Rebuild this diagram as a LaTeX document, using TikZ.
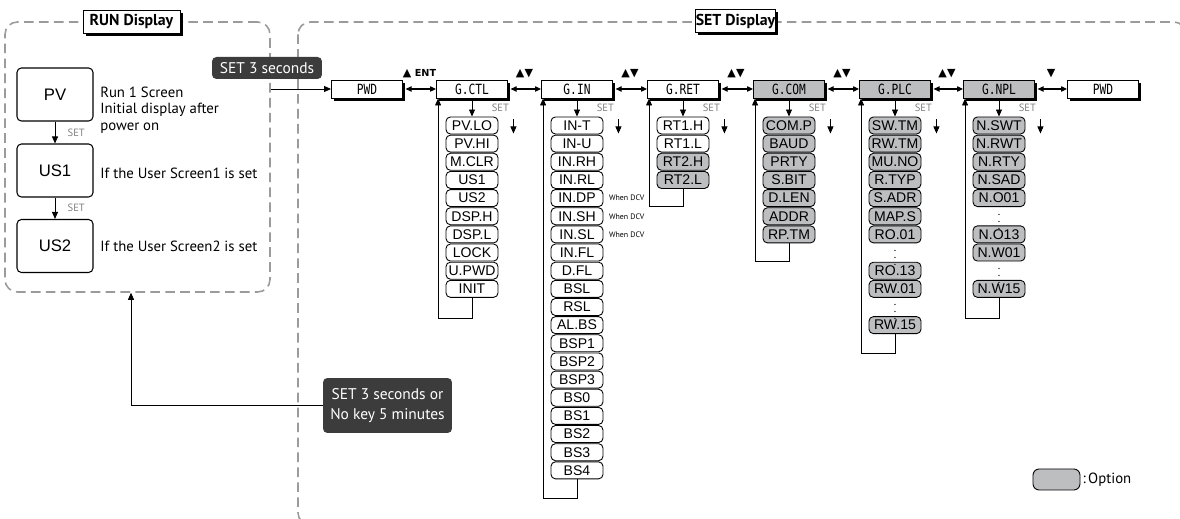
\documentclass[tikz,border=0pt]{standalone}
\usepackage{fontspec}
\setmainfont{PT Sans}
\newfontfamily\itemfont{Liberation Sans}
\newfontfamily\grpfont[FakeStretch=0.8]{DejaVu Sans Mono}
\newfontfamily\symfont{DejaVu Sans}
\usetikzlibrary{arrows.meta, positioning, calc, shadows}

\definecolor{optgray}{RGB}{189,190,192}
\definecolor{darkbox}{RGB}{60,60,60}
\definecolor{dashgray}{RGB}{155,155,155}

\begin{document}
\begin{tikzpicture}[x=0.02cm, y=-0.02cm,
    dashbox/.style={draw=dashgray, line width=0.9pt, dash pattern=on 5.5pt off 3pt, rounded corners=7pt},
    titlebox/.style={draw, fill=white, line width=0.5pt, inner sep=0pt, minimum height=0.46cm, font=\bfseries\fontsize{9}{9}\selectfont, drop shadow={shadow xshift=1.5pt, shadow yshift=-1.5pt, fill=black, opacity=1}},
    screen/.style={draw, rounded corners=2.5pt, line width=0.6pt, minimum width=1.52cm, minimum height=1.06cm, font=\itemfont\fontsize{9.5}{9.5}\selectfont},
    notetext/.style={anchor=west, align=left, inner sep=0pt, font=\fontsize{8.4}{9.5}\selectfont},
    darklab/.style={fill=darkbox, text=white, rounded corners=2.5pt, inner sep=0pt, align=center, font=\fontsize{8.8}{11.5}\selectfont},
    grp/.style={draw, fill=white, line width=0.5pt, inner sep=0pt, minimum width=1.42cm, minimum height=0.36cm, font=\grpfont\fontsize{8}{8}\selectfont, drop shadow={shadow xshift=1.5pt, shadow yshift=-1.5pt, fill=black, opacity=1}},
    grpopt/.style={grp, fill=optgray},
    item/.style={draw, fill=white, line width=0.5pt, rounded corners=2.5pt, inner sep=0pt, minimum width=1.04cm, minimum height=0.34cm, font=\itemfont\fontsize{8}{8}\selectfont},
    itemopt/.style={item, fill=optgray},
    dots/.style={inner sep=0pt, font=\fontsize{6.5}{6.5}\selectfont},
    arr/.style={-{Triangle[length=4pt,width=3.4pt]}, line width=0.5pt},
    dbl/.style={{Triangle[length=3.4pt,width=3pt]}-{Triangle[length=3.4pt,width=3pt]}, line width=0.6pt, shorten <=1.5pt},
    keylab/.style={midway, yshift=8.8pt, inner sep=0pt, font=\symfont\fontsize{6.3}{6.3}\selectfont},
    setlab/.style={midway, right=11pt, inner sep=0pt, text=gray, font=\fontsize{6}{6}\selectfont},
    dcv/.style={anchor=west, xshift=3pt, inner sep=0pt, font=\fontsize{4.5}{4.5}\selectfont}
]
    \useasboundingbox (0,0) rectangle (1180,519);
    \clip (0,0) rectangle (1180,519);

    % Display frames
    \node[dashbox, minimum width=5.3cm, minimum height=5.4cm] (runbox) at (137.5,157) {};
    \draw[dashbox] (298,22) rectangle (1186,525);
    \node[titlebox, minimum width=1.94cm] (runtitle) at (131.5,21.5) {RUN Display};
    \node[titlebox, minimum width=1.5cm] (settitle) at (735.5,21) {SET Display};

    % RUN screens
    \node[screen] (pv) at (55,94.5) {PV};
    \node[screen] (us1) at (55,170.5) {US1};
    \node[screen] (us2) at (55,246) {US2};
    \draw[arr] (pv) -- node[setlab, right=7pt] {SET} (us1);
    \draw[arr] (us1) -- node[setlab, right=7pt] {SET} (us2);
    \node[notetext] (pvnote) at (100,110) {Run 1 Screen\\Initial display after\\power on};
    \node[notetext] (us1note) at (100,173) {If the User Screen1 is set};
    \node[notetext] (us2note) at (100,246) {If the User Screen2 is set};

    % Group row
    \node[grp] (pwdA) at (367,89) {PWD};
    \node[grp] (gctl) at (472,89) {G.CTL};
    \node[grp] (gin) at (577,89) {G.IN};
    \node[grp] (gret) at (683,89) {G.RET};
    \node[grpopt] (gcom) at (789,89) {G.COM};
    \node[grpopt] (gplc) at (895,89) {G.PLC};
    \node[grpopt] (gnpl) at (999,89) {G.NPL};
    \node[grp] (pwdB) at (1103,89) {PWD};
    \draw[dbl] (pwdA) -- node[keylab] {▲ {\fontsize{5.5}{5.5}\selectfont\bfseries ENT}} (gctl);
    \draw[dbl] (gctl) -- node[keylab] {▲▼} (gin);
    \draw[dbl] (gin) -- node[keylab] {▲▼} (gret);
    \draw[dbl] (gret) -- node[keylab] {▲▼} (gcom);
    \draw[dbl] (gcom) -- node[keylab] {▲▼} (gplc);
    \draw[dbl] (gplc) -- node[keylab] {▲▼} (gnpl);
    \draw[dbl] (gnpl) -- node[keylab] {▼} (pwdB);

    % Entry and exit
    \node[darklab, minimum width=2.2cm, minimum height=0.44cm] (entrylab) at (267,68) {SET 3 seconds};
    \draw[arr] (runbox.east |- pwdA.west) -- (pwdA.west);
    \node[darklab, minimum width=2.58cm, minimum height=1.1cm] (exitlab) at (387.5,405.5) {SET 3 seconds or\\No key 5 minutes};
    \draw[arr] (exitlab.west) -| ([xshift=-0.13cm]runbox.south);

    % G.CTL
    \foreach \name [count=\i] in {PV.LO, PV.HI, M.CLR, US1, US2, DSP.H, DSP.L, LOCK, U.PWD, INIT}
        \node[item] (ctl\i) at (472,{125.5+18.15*(\i-1)}) {\name};
    \draw[arr] (gctl) -- node[setlab] {SET} (ctl1);
    \draw[arr] ($(ctl1.east)+(15,-6)$) -- ++(0,14);
    \draw[arr] (ctl10.south) -- ++(0,21) -| ([xshift=0.04cm]gctl.south west);

    % G.IN
    \foreach \name [count=\i] in {IN-T, IN-U, IN.RH, IN.RL, IN.DP, IN.SH, IN.SL, IN.FL, D.FL, BSL, RSL, AL.BS, BSP1, BSP2, BSP3, BS0, BS1, BS2, BS3, BS4}
        \node[item] (in\i) at (577,{125.5+18.15*(\i-1)}) {\name};
    \foreach \i in {5,6,7}
        \node[dcv] (dcv\i) at (in\i.east) {When DCV};
    \draw[arr] (gin) -- node[setlab] {SET} (in1);
    \draw[arr] ($(in1.east)+(15,-6)$) -- ++(0,14);
    \draw[arr] (in20.south) -- ++(0,19) -| ([xshift=0.04cm]gin.south west);

    % G.RET
    \foreach \name/\fc [count=\i] in {RT1.H/white, RT1.L/white, RT2.H/optgray, RT2.L/optgray}
        \node[item, fill=\fc] (ret\i) at (683,{125.5+18.15*(\i-1)}) {\name};
    \draw[arr] (gret) -- node[setlab] {SET} (ret1);
    \draw[arr] ($(ret1.east)+(15,-6)$) -- ++(0,14);
    \draw[arr] (ret4.south) -- ++(0,18) -| ([xshift=0.04cm]gret.south west);

    % G.COM
    \foreach \name [count=\i] in {COM.P, BAUD, PRTY, S.BIT, D.LEN, ADDR, RP.TM}
        \node[itemopt] (com\i) at (789,{125.5+18.15*(\i-1)}) {\name};
    \draw[arr] (gcom) -- node[setlab] {SET} (com1);
    \draw[arr] ($(com1.east)+(15,-6)$) -- ++(0,14);
    \draw[arr] (com7.south) -- ++(0,18) -| ([xshift=0.04cm]gcom.south west);

    % G.PLC
    \foreach \name/\s [count=\i] in {SW.TM/0, RW.TM/1, MU.NO/2, R.TYP/3, S.ADR/4, MAP.S/5, RO.01/6, RO.13/8, RW.01/9, RW.15/11}
        \node[itemopt] (plc\i) at (895,{125.5+18.15*\s}) {\name};
    \node[dots] (plcdotA) at (895,{125.5+18.15*7}) {$\vdots$};
    \node[dots] (plcdotB) at (895,{125.5+18.15*10}) {$\vdots$};
    \draw[arr] (gplc) -- node[setlab] {SET} (plc1);
    \draw[arr] ($(plc1.east)+(15,-6)$) -- ++(0,14);
    \draw[arr] (plc10.south) -- ++(0,19) -| ([xshift=0.04cm]gplc.south west);

    % G.NPL
    \foreach \name/\s [count=\i] in {N.SWT/0, N.RWT/1, N.RTY/2, N.SAD/3, N.O01/4, N.O13/6, N.W01/7, N.W15/9}
        \node[itemopt] (npl\i) at (999,{125.5+18.15*\s}) {\name};
    \node[dots] (npldotA) at (999,{125.5+18.15*5}) {$\vdots$};
    \node[dots] (npldotB) at (999,{125.5+18.15*8}) {$\vdots$};
    \draw[arr] (gnpl) -- node[setlab] {SET} (npl1);
    \draw[arr] ($(npl1.east)+(15,-6)$) -- ++(0,14);
    \draw[arr] (npl8.south) -- ++(0,21) -| ([xshift=0.04cm]gnpl.south west);

    % Legend
    \node[itemopt, minimum width=0.94cm, minimum height=0.42cm, rounded corners=3.5pt] (legbox) at (1056.5,479.5) {};
    \node[right=1pt of legbox, inner sep=0pt, font=\fontsize{8.4}{8.4}\selectfont] (legtext) {:\,Option};
\end{tikzpicture}
\end{document}
